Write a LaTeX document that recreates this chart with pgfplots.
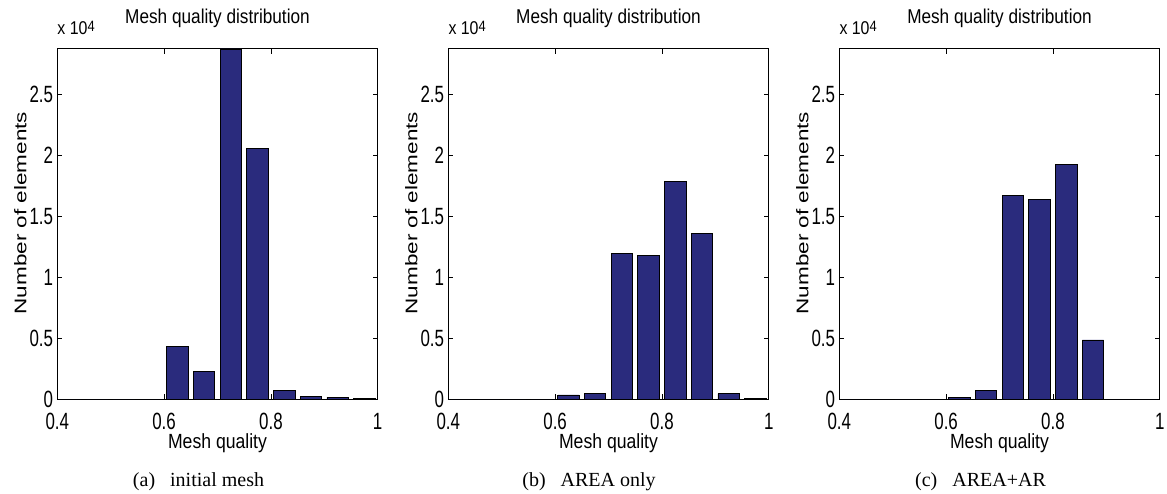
\documentclass[border=0pt]{standalone}
\usepackage{fontspec}
\usepackage{graphicx}
\usepackage{pgfplots}
\pgfplotsset{compat=1.18}

\newfontfamily\chartfont[FakeStretch=0.72]{Liberation Sans}
\newfontfamily\titlefontfam[FakeStretch=0.86]{Liberation Sans}
\newfontfamily\plainsans{Liberation Sans}
\newfontfamily\capfont{Liberation Serif}

\definecolor{barblue}{RGB}{42,43,125}

\pgfplotsset{
  meshax/.style={
    scale only axis,
    width=320.4pt, height=350pt,
    anchor=south west,
    ybar, bar width=0.04,
    xmin=0.4, xmax=1, ymin=0, ymax=28700,
    enlargelimits=false,
    clip=true, clip mode=individual,
    scaled y ticks=false,
    scaled x ticks=false,
    axis line style={black, line width=1pt},
    tick align=inside,
    tick pos=both,
    major tick length=5pt,
    tick style={black, line width=0.8pt},
    xtick={0.4,0.6,0.8,1},
    xticklabels={0.4,0.6,0.8,1},
    ytick={0,5000,10000,15000,20000,25000},
    yticklabels={0,0.5,1,1.5,2,2.5},
    ticklabel style={font=\fontsize{23.5}{25}\selectfont\chartfont},
    yticklabel style={anchor=east, inner sep=0pt, xshift=-4pt},
    xticklabel style={anchor=north, inner sep=0pt, yshift=-14pt},
    xlabel={Mesh quality},
    xlabel style={font=\fontsize{20.5}{23}\selectfont\titlefontfam,
      at={(axis description cs:0.5,-0.0971)}, anchor=north, inner sep=0pt},
    ylabel={\scalebox{1}[0.75]{\plainsans Number of elements}},
    ylabel style={font=\fontsize{22.5}{24}\selectfont,
      at={(axis description cs:-0.1155,0.531)}, anchor=center, inner sep=0pt},
    title={Mesh quality distribution},
    title style={font=\fontsize{20}{22}\selectfont\titlefontfam,
      at={(axis description cs:0.5,1.0571)}, anchor=base, inner sep=0pt},
  },
  meshbar/.style={fill=barblue, draw=black, line width=0.8pt},
}

\newcommand{\scalelabel}{%
  \node[anchor=base west, inner sep=0pt,
        font=\fontsize{18.5}{21}\selectfont\titlefontfam]
    at (rel axis cs:0,1) [yshift=14pt]
    {x 10\raisebox{3.5pt}{\fontsize{15}{15}\selectfont 4}};}

\begin{document}
\begin{tikzpicture}
\useasboundingbox (0,0) rectangle (1167pt,493pt);

% (a) initial mesh
\begin{axis}[meshax, at={(57.3pt,94pt)}]
\addplot[meshbar] coordinates {
  (0.425,0) (0.475,0) (0.525,0) (0.575,0)
  (0.625,4290) (0.675,2270) (0.725,28700) (0.775,20550)
  (0.825,680) (0.875,220) (0.925,140) (0.975,20)
};
\scalelabel
\end{axis}

% (b) AREA only
\begin{axis}[meshax, at={(448.3pt,94pt)}]
\addplot[meshbar] coordinates {
  (0.425,0) (0.475,0) (0.525,0) (0.575,0)
  (0.625,330) (0.675,490) (0.725,11970) (0.775,11800)
  (0.825,17810) (0.875,13550) (0.925,440) (0.975,50)
};
\scalelabel
\end{axis}

% (c) AREA+AR
\begin{axis}[meshax, at={(839.3pt,94pt)}]
\addplot[meshbar] coordinates {
  (0.425,0) (0.475,0) (0.525,0) (0.575,0)
  (0.625,160) (0.675,710) (0.725,16670) (0.775,16370)
  (0.825,19230) (0.875,4840) (0.925,0) (0.975,0)
};
\scalelabel
\end{axis}

\begin{scope}[every node/.style={anchor=base, inner sep=0pt,
    font=\fontsize{20}{22}\selectfont\capfont}]
  \node at (198.5pt,7pt) {(a)\hspace{15pt}initial mesh};
  \node at (589pt,7pt) {(b)\hspace{15pt}AREA only};
  \node at (980.5pt,7pt) {(c)\hspace{15pt}AREA+AR};
\end{scope}
\end{tikzpicture}
\end{document}
